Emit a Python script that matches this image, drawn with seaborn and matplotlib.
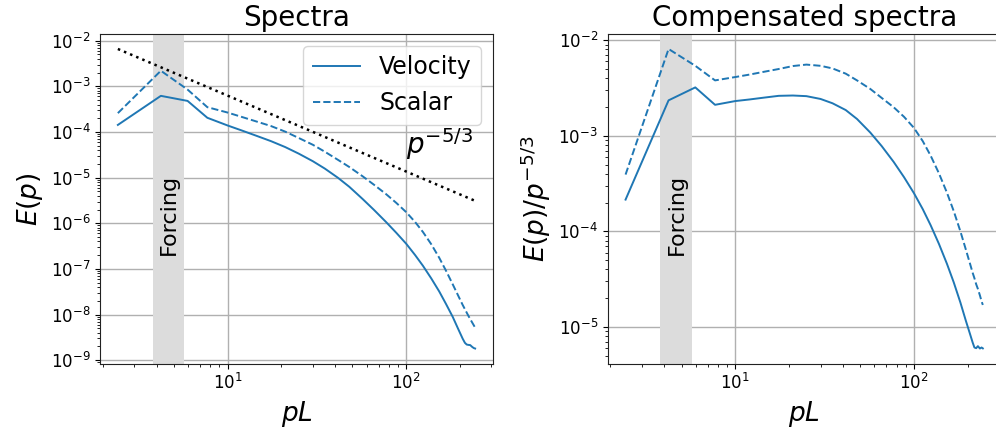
import matplotlib
matplotlib.use("Agg")
import matplotlib.pyplot as plt
import matplotlib.transforms as mtransforms
from matplotlib.ticker import LogLocator, NullFormatter
import seaborn as sns
import numpy as np

# ---- data ----
p = [2.43, 4.23, 5.97, 7.7, 10, 12, 14.5, 17.5, 21, 25, 30, 35, 41.5, 48, 57,
     66, 77, 88, 100, 112, 124, 138, 153, 167, 182, 195, 207, 213, 218, 223,
     228, 234, 239, 243]

E_velocity = [1.43e-4, 6.2e-4, 4.8e-4, 2.05e-4, 1.39e-4, 1.08e-4, 8.26e-5, 6.3e-5,
              4.68e-5, 3.36e-5, 2.29e-5, 1.58e-5, 9.9e-6, 6.3e-6, 3.4e-6,
              1.96e-6, 1.07e-6, 6.17e-7, 3.55e-7, 2.02e-7, 1.17e-7, 6.2e-8,
              3.2e-8, 1.7e-8, 8.9e-9, 4.9e-9, 2.95e-9, 2.4e-9, 2.2e-9, 2.16e-9,
              2.14e-9, 1.95e-9, 1.84e-9, 1.8e-9]
E_scalar = [2.59e-4, 2.2e-3, 8.5e-4, 3.5e-4, 2.67e-4, 2.14e-4, 1.70e-4, 1.35e-4,
            1.02e-4, 7.4e-5, 5.25e-5, 3.7e-5, 2.45e-5, 1.71e-5, 1.07e-5,
            6.98e-6, 4.37e-6, 2.79e-6, 1.75e-6, 1.07e-6, 6.44e-7, 3.48e-7,
            1.75e-7, 9.1e-8, 4.6e-8, 2.63e-8, 1.62e-8, 1.31e-8, 1.1e-8, 9.3e-9,
            7.98e-9, 6.67e-9, 5.78e-9, 5.16e-9]

C_velocity = [2.15e-4, 2.35e-3, 3.21e-3, 2.11e-3, 2.31e-3, 2.4e-3, 2.51e-3, 2.62e-3,
              2.64e-3, 2.6e-3, 2.43e-3, 2.19e-3, 1.86e-3, 1.5e-3, 1.08e-3,
              7.8e-4, 5.33e-4, 3.69e-4, 2.51e-4, 1.71e-4, 1.16e-4, 7.4e-5,
              4.58e-5, 2.93e-5, 1.8e-5, 1.17e-5, 8.2e-6, 6.9e-6, 6.1e-6, 6.0e-6,
              6.3e-6, 5.95e-6, 6.1e-6, 5.97e-6]
C_scalar = [3.93e-4, 8.1e-3, 5.4e-3, 3.8e-3, 4.12e-3, 4.37e-3, 4.68e-3, 5.0e-3,
            5.37e-3, 5.56e-3, 5.4e-3, 5.07e-3, 4.47e-3, 3.8e-3, 3.09e-3,
            2.49e-3, 1.99e-3, 1.58e-3, 1.21e-3, 8.8e-4, 6.2e-4, 4.05e-4,
            2.54e-4, 1.63e-4, 1.0e-4, 6.5e-5, 4.45e-5, 3.7e-5, 3.24e-5, 2.8e-5,
            2.5e-5, 2.14e-5, 1.86e-5, 1.7e-5]

ref_p = [2.43, 243]
ref_E = [6.6e-3, 3.1e-6]

forcing_band = (3.8, 5.7)

labels = ["Velocity", "Scalar"]
titles = ["Spectra", "Compensated spectra"]
ylabels = [r"$E(p)$", r"$E(p)/p^{-5/3}$"]
xlabel = r"$pL$"

# ---- figure ----
plt.rcParams["font.family"] = ["DejaVu Sans"]
plt.rcParams["mathtext.fontset"] = "dejavusans"
W, H = 996, 436
fig = plt.figure(figsize=(W / 100, H / 100), dpi=100)

ax1 = fig.add_axes([100 / W, (H - 363.5) / H, 393 / W, 329.5 / H])
ax2 = fig.add_axes([607.7 / W, (H - 363.5) / H, 393 / W, 329.5 / H])

blue = "#1f77b4"

for ax, yv, ys, ttl, yl in [(ax1, E_velocity, E_scalar, titles[0], ylabels[0]),
                            (ax2, C_velocity, C_scalar, titles[1], ylabels[1])]:
    ax.set_xscale("log")
    ax.set_yscale("log")
    ax.set_axisbelow(True)
    ax.grid(True, which="major", color="#b0b0b0", lw=1.0)
    ax.axvspan(*forcing_band, color="#dcdcdc", lw=0, zorder=1)
    sns.lineplot(x=p, y=yv, ax=ax, color=blue, lw=1.4, linestyle="-",
                 label=labels[0], legend=False, zorder=3)
    sns.lineplot(x=p, y=ys, ax=ax, color=blue, lw=1.4, linestyle="--",
                 label=labels[1], legend=False, zorder=3)
    ax.set_title(ttl, fontsize=20, pad=6)
    ax.set_xlabel(xlabel, fontsize=19)
    ax.set_ylabel(yl, fontsize=19)
    ax.tick_params(labelsize=12)
    ax.yaxis.set_major_locator(LogLocator(base=10, numticks=20))
    ax.yaxis.set_minor_locator(LogLocator(base=10, subs=np.arange(2, 10), numticks=100))
    ax.yaxis.set_minor_formatter(NullFormatter())
    ax.xaxis.set_minor_formatter(NullFormatter())
    trans = mtransforms.blended_transform_factory(ax.transData, ax.transAxes)
    ax.text(4.72, 0.453, "Forcing", rotation=90, ha="center", va="center",
            fontsize=16, transform=trans)
    for s in ax.spines.values():
        s.set_color("#222222")

sns.lineplot(x=ref_p, y=ref_E, ax=ax1, color="black", linestyle=":", lw=1.8,
             legend=False, zorder=3)
ax1.text(100, 3.3e-5, r"$p^{-5/3}$", fontsize=20)

ax1.legend(fontsize=17, loc="upper right")

fig.savefig("out.png", dpi=100)
